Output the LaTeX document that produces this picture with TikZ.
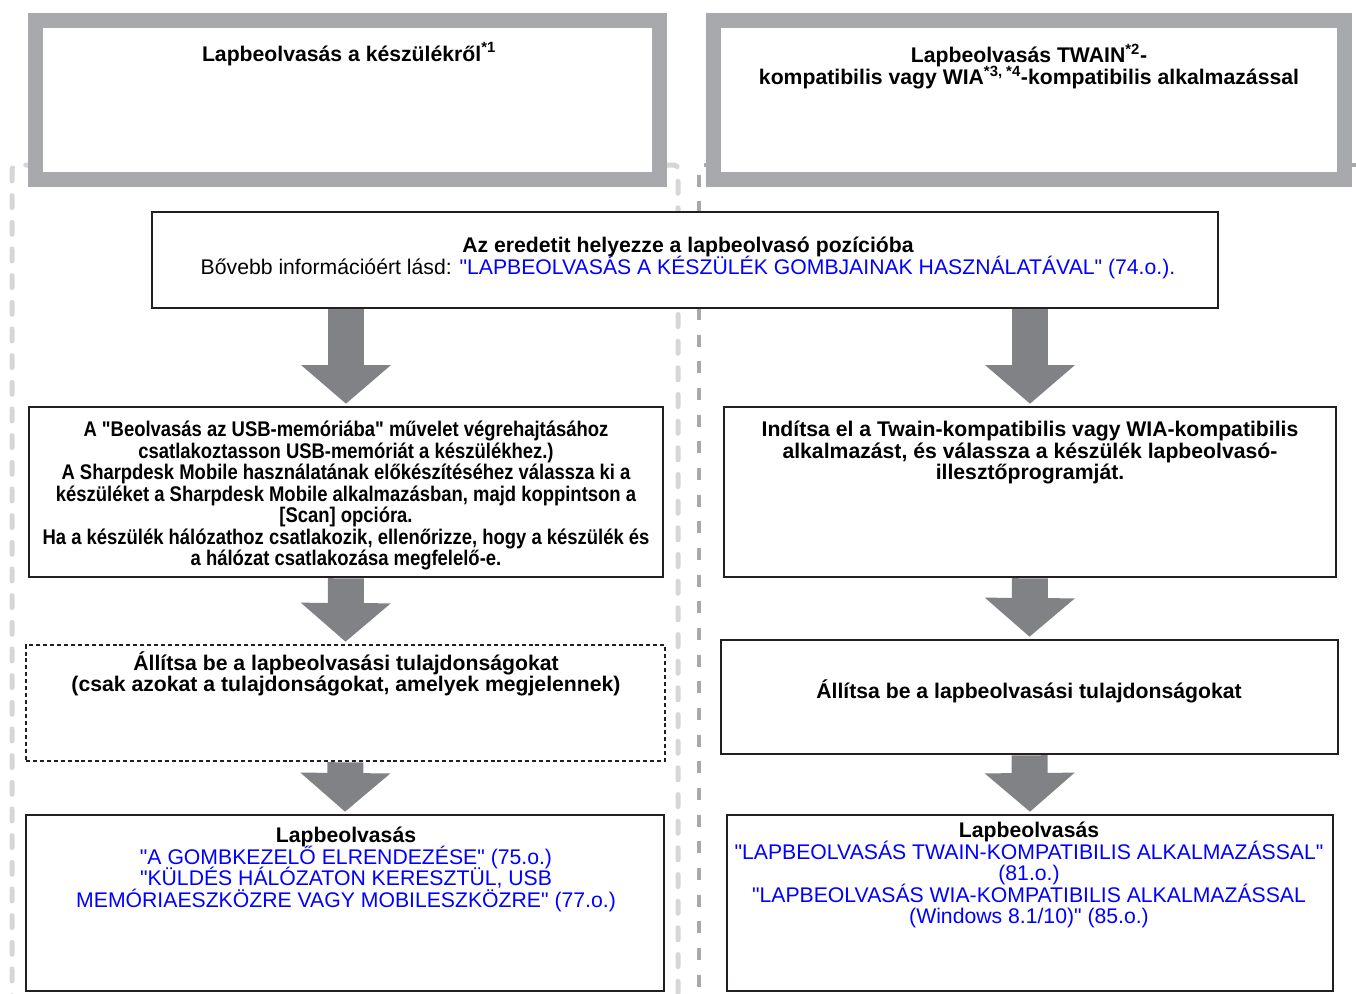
\documentclass[tikz,border=0pt]{standalone}
\usepackage{fontspec}
\setmainfont{Liberation Sans}[Ligatures=TeXOff]
\usepackage{xcolor}
\usetikzlibrary{arrows.meta,positioning,fit}
\definecolor{framegray}{HTML}{A7A9AC}
\definecolor{arrowgray}{HTML}{808285}
\definecolor{palegray}{HTML}{D5D6D8}
\definecolor{ink}{HTML}{231F20}
\definecolor{linkblue}{HTML}{0000FF}
\newcommand{\lnk}[1]{\textcolor{linkblue}{#1}}
\newcommand{\boxfont}{\fontsize{15.9}{16.1}\selectfont\lineskiplimit=-20pt\lineskip=0pt\bfseries}

\begin{document}
\begin{tikzpicture}[x=0.75pt,y=-0.75pt,
 hdr/.style={draw=framegray,line width=11.25pt,outer sep=0pt,inner sep=0pt,fill=white},
 box/.style={draw=ink,line width=1.9pt,outer sep=0pt,inner sep=0pt,fill=white},
 optbox/.style={box,line width=1.5pt,dash pattern=on 3pt off 2.2pt},
 txt/.style={align=center,inner sep=0pt,anchor=north,font=\boxfont,
   execute at begin node={\rule{0pt}{15pt}}},
 narrow/.style={font=\boxfont\addfontfeature{FakeStretch=0.87}},
 bigarr/.style={draw=arrowgray,line width=27pt,shorten >=2.5pt,shorten <=1pt,
   -{Triangle[width=67.5pt,length=29pt,line width=0pt]}},
 lcol/.style={palegray,line width=3.75pt,line cap=round,dash pattern=on 9pt off 11pt},
 rcol/.style={framegray,line width=3pt,dash pattern=on 9pt off 11pt}]
\useasboundingbox (0,0) rectangle (1356,993);
\clip (0,0) rectangle (1356,993);
% column frames
\draw[lcol,rounded corners=3pt] (12,165) rectangle (678,1010);
\draw[rcol] (1356,165) -- (699,165) -- (699,1010);
% headers
\node[hdr,fit={(35.5,20.5) (659.5,179.5)}] (hdrL) {};
\node[hdr,fit={(713.5,20.5) (1344.5,179.5)}] (hdrR) {};
\node[txt] (hdrLt) at (349,41) {Lapbeolvasás a készülékről\textsuperscript{*1}};
\node[txt] (hdrRt) at (1029,44) {Lapbeolvasás TWAIN\textsuperscript{*2}-\\kompatibilis vagy WIA\textsuperscript{*3, *4}-kompatibilis alkalmazással};
% steps
\node[box,fit={(152,212) (1218,308)}] (mid) {};
\node[box,fit={(29,407) (663,577)}] (l1) {};
\node[box,fit={(724,407) (1336,577)}] (r1) {};
\node[optbox,fit={(26,645) (665,761)}] (l2) {};
\node[box,fit={(721,640) (1338,754)}] (r2) {};
\node[box,fit={(26,815) (664,991)}] (l3) {};
\node[box,fit={(727,815) (1333,991)}] (r3) {};
\node[txt] (midt) at (688,237) {Az eredetit helyezze a lapbeolvasó pozícióba\\{\mdseries Bővebb információért lásd: \lnk{"LAPBEOLVASÁS A KÉSZÜLÉK GOMBJAINAK HASZNÁLATÁVAL" (74.o.).}}};
\node[txt,narrow] (l1t) at (346,421) {A "Beolvasás az USB-memóriába" művelet végrehajtásához\\csatlakoztasson USB-memóriát a készülékhez.)\\A Sharpdesk Mobile használatának előkészítéséhez válassza ki a\\készüléket a Sharpdesk Mobile alkalmazásban, majd koppintson a\\{[}Scan{]} opcióra.\\Ha a készülék hálózathoz csatlakozik, ellenőrizze, hogy a készülék és\\a hálózat csatlakozása megfelelő-e.};
\node[txt] (r1t) at (1030,421) {Indítsa el a Twain-kompatibilis vagy WIA-kompatibilis\\alkalmazást, és válassza a készülék lapbeolvasó-\\illesztőprogramját.};
\node[txt] (l2t) at (346,651) {Állítsa be a lapbeolvasási tulajdonságokat\\(csak azokat a tulajdonságokat, amelyek megjelennek)};
\node[txt] (r2t) at (1029,678) {Állítsa be a lapbeolvasási tulajdonságokat};
\node[txt] (l3t) at (346,827) {Lapbeolvasás\\{\mdseries\lnk{"A GOMBKEZELŐ ELRENDEZÉSE" (75.o.)}}\\{\mdseries\lnk{"KÜLDÉS HÁLÓZATON KERESZTÜL, USB}}\\{\mdseries\lnk{MEMÓRIAESZKÖZRE VAGY MOBILESZKÖZRE" (77.o.)}}};
\node[txt] (r3t) at (1029,822) {Lapbeolvasás\\{\mdseries\lnk{"LAPBEOLVASÁS TWAIN-KOMPATIBILIS ALKALMAZÁSSAL"}}\\{\mdseries\lnk{(81.o.)}}\\{\mdseries\lnk{"LAPBEOLVASÁS WIA-KOMPATIBILIS ALKALMAZÁSSAL}}\\{\mdseries\lnk{(Windows 8.1/10)" (85.o.)}}};
% arrows
\draw[bigarr] (mid.south -| l1.north) -- (l1.north);
\draw[bigarr] (mid.south -| r1.north) -- (r1.north);
\draw[bigarr] (l1.south) -- (l2.north);
\draw[bigarr] (r1.south) -- (r2.north);
\draw[bigarr] (l2.south) -- (l3.north);
\draw[bigarr] (r2.south) -- (r3.north);
\end{tikzpicture}
\end{document}
